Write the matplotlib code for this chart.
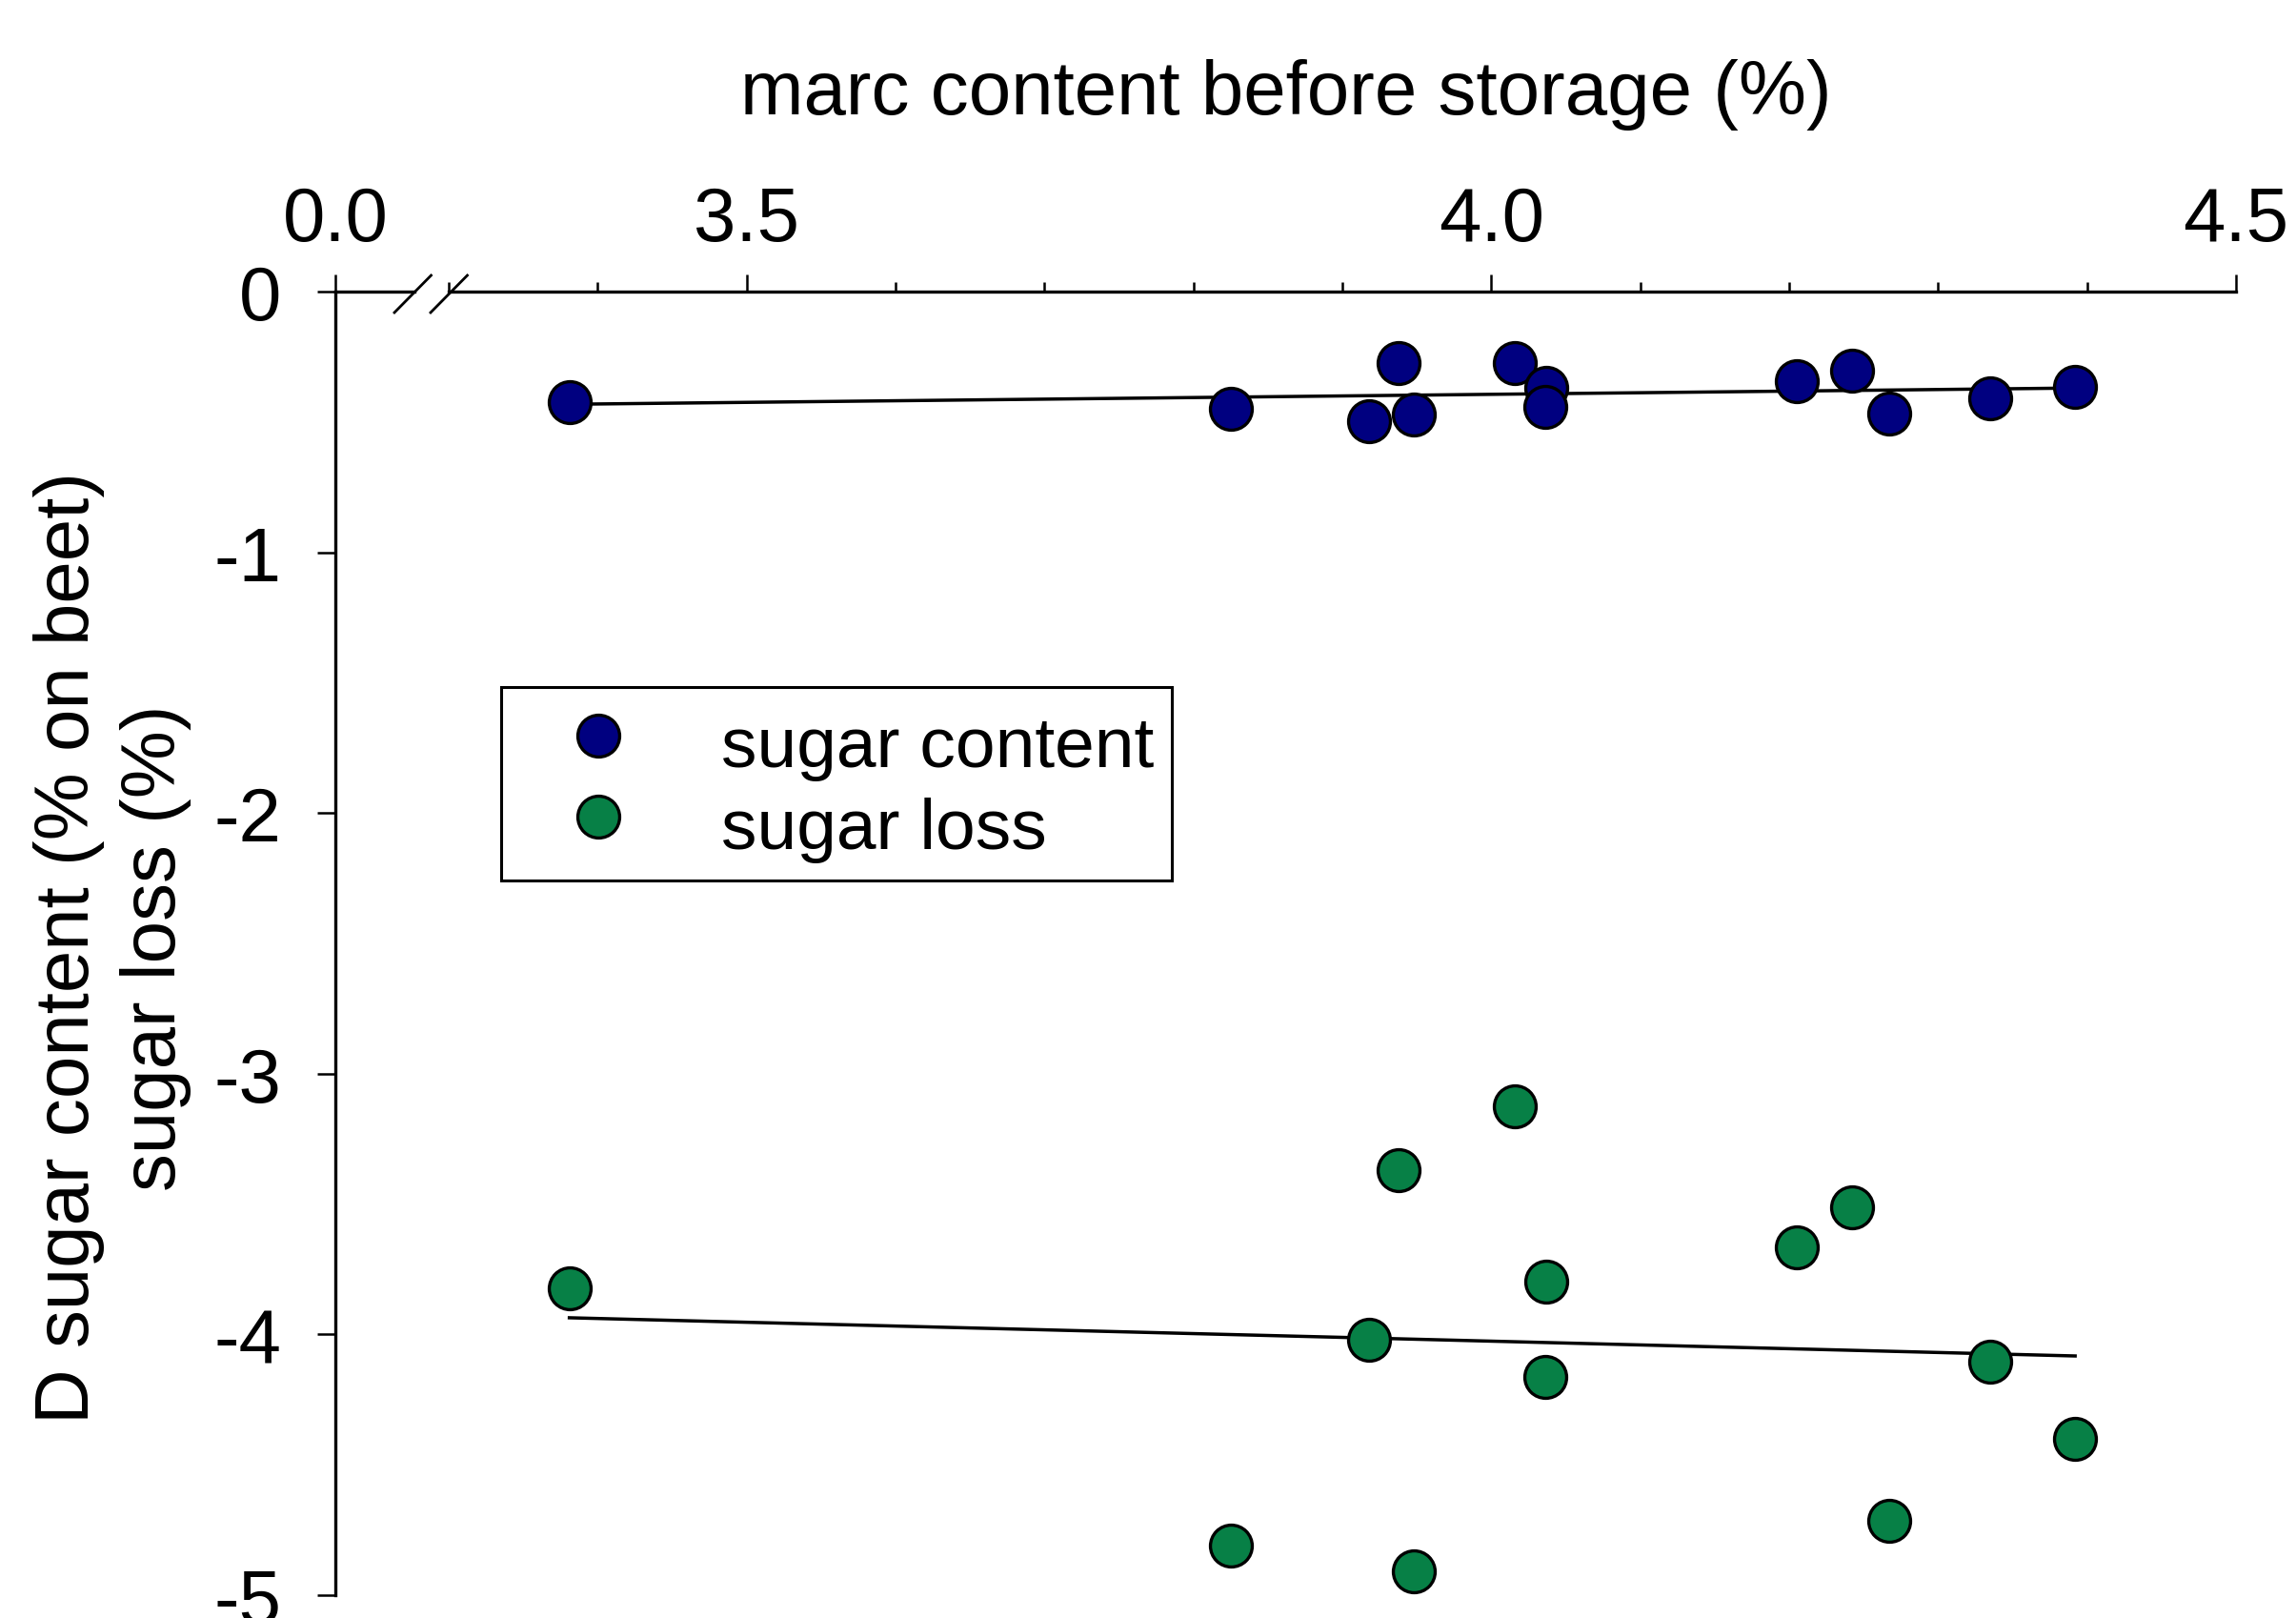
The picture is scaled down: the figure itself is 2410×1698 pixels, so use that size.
import matplotlib
matplotlib.use('Agg')
import matplotlib.pyplot as plt
import numpy as np
from matplotlib.lines import Line2D
from matplotlib.ticker import MultipleLocator

plt.rcParams.update({
    'font.family': 'Liberation Sans',
    'font.size': 57.5,
    'axes.unicode_minus': False,
})

# Data
marc = [3.381, 3.825, 3.918, 3.938, 3.948, 4.016, 4.037, 4.036,
        4.205, 4.242, 4.267, 4.335, 4.392]
sugar_content = [-0.424, -0.450, -0.497, -0.274, -0.471, -0.274, -0.369,
                 -0.442, -0.344, -0.303, -0.468, -0.409, -0.365]
sugar_loss = [-3.822, -4.811, -4.019, -3.370, -4.909, -3.125, -3.796,
              -4.162, -3.666, -3.514, -4.715, -4.103, -4.402]

x_major = [3.5, 4.0, 4.5]
x_major_labels = ['3.5', '4.0', '4.5']
y_ticks = [0, -1, -2, -3, -4, -5]

c_content = '#000080'
c_loss = '#078046'

W, H = 2410, 1699
fig = plt.figure(figsize=(W / 100, H / 100), dpi=100)

bottom = (H - 1675) / H
height = (1675 - 307) / H
ax_l = fig.add_axes([352 / W, bottom, (435 - 352) / W, height])
ax = fig.add_axes([471 / W, bottom, (2347 - 471) / W, height])

for a in (ax_l, ax):
    a.set_ylim(-5, 0)
    a.patch.set_alpha(0)
    a.spines['bottom'].set_visible(False)
    a.spines['right'].set_visible(False)
    a.spines['top'].set_linewidth(2.4)
    a.spines['left'].set_linewidth(2.4)
    a.xaxis.set_ticks_position('top')
    a.xaxis.set_label_position('top')

# left stub (0.0) with the y axis
ax_l.set_xlim(0, 1)
ax_l.set_xticks([0])
ax_l.set_xticklabels(['0.0'])
ax_l.set_yticks(y_ticks)
ax_l.set_yticklabels([str(v) for v in y_ticks])
ax_l.tick_params(axis='x', which='major', direction='out', length=13, width=1.8, pad=14, labelsize=57.5)
ax_l.tick_params(axis='y', direction='out', length=13.5, width=1.8, pad=27, labelsize=57.5)

# main part of the broken axis
ax.spines['left'].set_visible(False)
ax.set_xlim(3.3, 4.5)
ax.set_xticks(x_major)
ax.set_xticklabels(x_major_labels)
ax.xaxis.set_minor_locator(MultipleLocator(0.1))
ax.tick_params(axis='x', which='major', direction='out', length=13, width=1.8, pad=14, labelsize=57.5)
ax.tick_params(axis='x', which='minor', direction='out', length=7, width=1.8)
ax.tick_params(axis='y', left=False, labelleft=False)

# linear fits
xs = np.array([min(marc), max(marc)])
for yv in (sugar_content, sugar_loss):
    k, b = np.polyfit(marc, yv, 1)
    ax.plot(xs, k * xs + b, color='black', lw=2.5, zorder=2)

ax.scatter(marc, sugar_content, s=1000, color=c_content, edgecolors='black',
           linewidths=2.4, zorder=3, clip_on=False)
ax.scatter(marc, sugar_loss, s=1000, color=c_loss, edgecolors='black',
           linewidths=2.4, zorder=3, clip_on=False)

# break marks
for x0 in (414, 452):
    fig.add_artist(Line2D([x0 / W, (x0 + 38.5) / W], [1 - 329 / H, 1 - 290 / H],
                          transform=fig.transFigure, color='black', lw=2))

# legend
handles = [
    Line2D([0], [0], marker='o', ls='none', markersize=31.6, markerfacecolor=c_content,
           markeredgecolor='black', markeredgewidth=2.4, label='sugar content'),
    Line2D([0], [0], marker='o', ls='none', markersize=31.6, markerfacecolor=c_loss,
           markeredgecolor='black', markeredgewidth=2.4, label='sugar loss'),
]
leg = ax.legend(handles=handles, loc='upper left', bbox_to_anchor=(525.5 / W, 1 - 721.7 / H),
                bbox_transform=fig.transFigure, borderaxespad=0, fontsize=54,
                frameon=True, fancybox=False, framealpha=1, edgecolor='black',
                borderpad=0.25, handlelength=2.24, handletextpad=0.6,
                handleheight=1.24, labelspacing=0.08)
leg.get_frame().set_linewidth(2.2)

# axis titles
fig.text(1350 / W, 1 - 120 / H, 'marc content before storage (%)', ha='center',
         va='baseline', fontsize=57.5)
fig.text(118 / W, 1 - 995 / H, 'D sugar content (% on beet)\nsugar loss (%)',
         rotation=90, ha='center', va='center', multialignment='center',
         fontsize=57.5, linespacing=1.28)

fig.savefig('out.png', dpi=100, facecolor='white')
